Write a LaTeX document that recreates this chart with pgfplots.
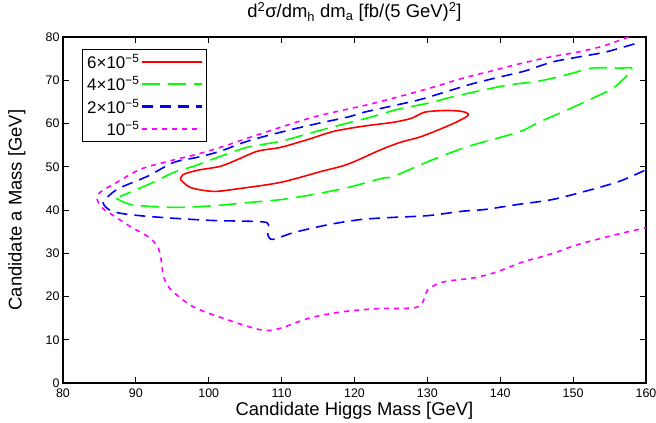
\documentclass[border=0pt]{standalone}
\usepackage{pgfplots}
\pgfplotsset{compat=1.18}
\usepackage{fontspec}
\setmainfont{Liberation Sans}
\usetikzlibrary{calc}

\definecolor{cred}{RGB}{255,0,0}
\definecolor{cgreen}{RGB}{0,255,0}
\definecolor{cblue}{RGB}{0,0,255}
\definecolor{cmag}{RGB}{255,0,255}

\begin{document}
\begin{tikzpicture}
\begin{axis}[
  scale only axis,
  width=583bp, height=346bp,
  xmin=80, xmax=160, ymin=0, ymax=80,
  xtick={80,90,...,160}, ytick={0,10,...,80},
  tick align=inside, tick pos=both,
  major tick length=6bp,
  axis line style={line width=1.2bp},
  tick style={line width=0.8bp, black},
  /pgf/number format/assume math mode=true,
  ticklabel style={font=\fontsize{12.5}{14}\selectfont},
  xticklabel style={yshift=-2bp},
  xlabel={Candidate Higgs Mass [GeV]},
  ylabel={Candidate a Mass [GeV]},
  label style={font=\fontsize{18.5}{21}\selectfont},
  xlabel style={at={(axis description cs:0.5,-0.08)},anchor=center},
  ylabel style={at={(axis description cs:-0.079,0.5)},anchor=center},
  title={d\textsuperscript{2}σ/dm\textsubscript{h} dm\textsubscript{a} [fb/(5 GeV)\textsuperscript{2}]},
  title style={at={(axis description cs:0.5,1.055)},anchor=center,font=\fontsize{18.5}{21}\selectfont},
  legend style={at={(axis description cs:0.033,0.965)},anchor=north west,
    line width=1bp, font=\fontsize{17}{19}\selectfont,
    inner sep=2.5bp, row sep=2.5bp},
  legend cell align=right,
  legend plot pos=right,
  legend image code/.code={\draw[#1, line width=2.2bp] (0bp,0.4bp) -- (60bp,0.4bp);},
  every axis plot/.append style={line width=1.6bp, smooth, tension=0.5},
]
% 6e-5
\addplot[draw=cred] coordinates {
(96.1,47.1) (97.5,45.2) (100.7,44.3) (104.4,45.0) (109.9,46.4) (115.4,48.9)
(119.1,50.6) (123.7,54.0) (126.4,55.7) (129.2,57.0) (133.3,59.8) (135.6,61.9)
(134.7,62.8) (132.3,63.0) (129.6,62.6) (127.8,61.2) (125.4,60.3) (121.3,59.4)
(117.2,58.2) (113.6,56.3) (109.9,54.5) (106.7,53.6) (104.0,51.7) (101.6,50.1)
(98.5,49.2) (96.5,48.2) (96.1,47.1)};
\addlegendentry{6×10\textsuperscript{−5}}
% 4e-5
\addplot[draw=cgreen, dash pattern=on 18bp off 8bp] coordinates {
(87.3,42.7) (89.2,41.3) (92.4,40.8) (96.1,40.6) (100.7,41.0) (105.3,41.7)
(109.9,42.4) (114.4,43.6) (119.1,45.2) (123.7,47.3) (125.4,47.8) (130.1,51.2)
(135.6,54.7) (142.5,58.0) (145.3,60.3) (149.4,63.3) (154.4,67.2) (155.7,68.4)
(158.1,72.6) (156.3,72.8) (152.6,72.8) (149.4,71.4) (145.3,69.8) (141.1,68.9)
(137.0,67.5) (133.3,66.1) (130.1,64.7) (126.0,63.3) (122.3,61.5) (119.5,60.3)
(114.4,58.0) (109.9,55.9) (105.3,54.5) (101.6,52.4) (97.9,50.1) (95.2,48.7)
(92.4,46.4) (89.2,44.1) (87.8,43.1)};
\addlegendentry{4×10\textsuperscript{−5}}
% 2e-5
\addplot[draw=cblue, dash pattern=on 11bp off 7bp] coordinates {
(158.4,78.4) (154.4,76.5) (150.8,75.4) (147.1,74.2) (143.3,72.1) (139.8,70.7)
(136.0,69.1) (132.3,67.2) (128.7,65.4) (125.0,64.0) (121.3,62.6) (119.1,61.5)
(114.4,59.8) (109.9,58.0) (105.3,55.9) (101.6,53.6) (98.5,52.2) (95.2,51.0)
(91.6,47.8) (87.9,45.2) (86.5,43.6) (85.5,41.7) (86.5,39.9) (88.8,39.0)
(93.4,38.3) (100.2,37.6) (107.1,37.3) (108.2,36.6) (108.1,34.3) (108.8,33.2)
(111.7,34.8) (116.4,36.6) (120.9,37.8) (125.4,38.3) (130.1,38.7) (134.7,39.7)
(137.8,40.1) (142.5,41.3) (147.1,42.4) (151.6,44.3) (156.3,46.6) (160.0,49.3)};
\addlegendentry{2×10\textsuperscript{−5}}
% 1e-5
\addplot[draw=cmag, dash pattern=on 5bp off 5bp] coordinates {
(157.6,80.0) (154.1,77.9) (150.6,76.5) (146.9,75.4) (142.4,73.7) (138.7,72.1)
(134.5,70.3) (130.8,68.4) (126.3,66.3) (122.2,64.5) (119.0,63.3) (114.4,61.5)
(109.8,59.1) (105.3,56.6) (102.0,54.7) (98.4,52.9) (94.3,51.2) (90.6,49.4)
(87.4,46.4) (85.1,44.1) (84.7,42.4) (85.5,40.3) (87.3,38.3) (89.2,36.2)
(91.6,33.9) (92.9,31.8) (93.4,29.2) (93.8,24.6) (94.8,21.6) (97.9,17.6)
(102.6,14.6) (107.1,12.3) (109.5,12.5) (114.0,15.1) (118.5,16.5) (123.2,17.2)
(128.7,17.6) (130.1,21.6) (132.3,23.4) (136.4,24.3) (139.2,25.5) (141.1,26.7)
(143.3,28.1) (145.7,29.2) (148.0,30.4) (150.2,31.8) (152.6,32.9) (154.9,33.9)
(157.1,34.8) (160.0,35.9)};
\addlegendentry{10\textsuperscript{−5}}
\end{axis}
\pgfresetboundingbox
\path[use as bounding box] ($(current axis.south west)+(-63bp,-40bp)$) rectangle ($(current axis.north east)+(10bp,37bp)$);
\end{tikzpicture}
\end{document}
